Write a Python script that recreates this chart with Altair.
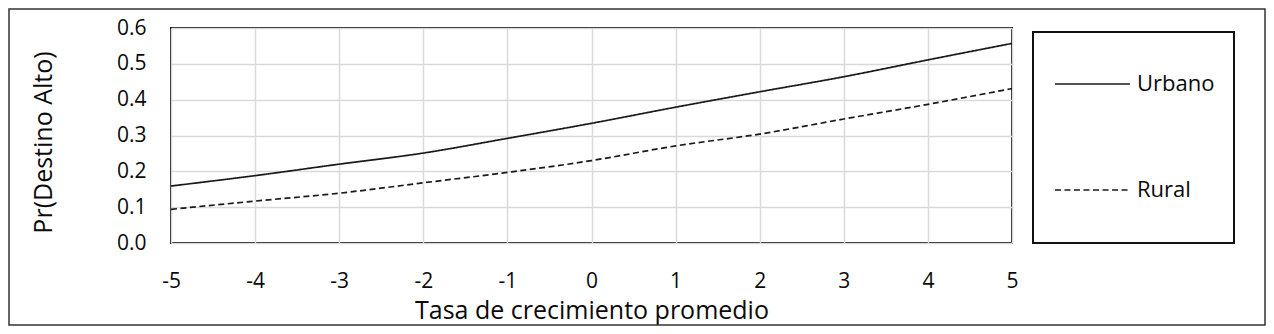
import altair as alt
import pandas as pd

x_vals = [-5, -4, -3, -2, -1, 0, 1, 2, 3, 4, 5]
urbano = [0.159, 0.188, 0.220, 0.251, 0.292, 0.334, 0.379, 0.422, 0.464, 0.511, 0.557]
rural = [0.094, 0.117, 0.139, 0.168, 0.197, 0.230, 0.271, 0.304, 0.346, 0.387, 0.431]
series_names = ["Urbano", "Rural"]
x_title = "Tasa de crecimiento promedio"
y_title = "Pr(Destino Alto)"

rows = []
for name, vals in zip(series_names, [urbano, rural]):
    for xv, yv in zip(x_vals, vals):
        rows.append({"x": xv, "y": yv, "serie": name})
df = pd.DataFrame(rows)
one = pd.DataFrame({"k": [0]})

FONT = "Open Sans"
TXT = "#0a0a0a"
W, H = 841, 215

xs = alt.Scale(domain=[-5, 5], nice=False)
ys = alt.Scale(domain=[0, 0.6], nice=False)

lines = alt.Chart(df).mark_line(interpolate="monotone", color="#1a1a1a", strokeWidth=1.7).encode(
    x=alt.X("x:Q", scale=xs, axis=alt.Axis(
        values=x_vals, title=x_title, labelExpr="'' + datum.value", labelFlush=False,
        grid=True, gridColor="#d9d9d9", gridWidth=1.5, domain=False, ticks=False,
        labelFontSize=21, labelPadding=27, labelColor=TXT, labelFont=FONT,
        titleFont=FONT, titleFontSize=25, titleFontWeight="normal", titleColor=TXT,
        titleBaseline="alphabetic", titleY=75)),
    y=alt.Y("y:Q", scale=ys, axis=alt.Axis(
        values=[0, 0.1, 0.2, 0.3, 0.4, 0.5, 0.6], format=".1f", title=y_title, labelFlush=False,
        grid=True, gridColor="#d9d9d9", gridWidth=1.5, domain=False, ticks=False,
        labelFontSize=21, labelPadding=25, labelColor=TXT, labelFont=FONT,
        titleFont=FONT, titleFontSize=25, titleFontWeight="normal", titleColor=TXT,
        titleBaseline="middle", titleAlign="center", titleAngle=-90, titleX=-128, titleY=114)),
    strokeDash=alt.StrokeDash("serie:N", scale=alt.Scale(domain=series_names, range=[[1, 0], [6, 3.5]]), legend=None),
    detail="serie:N",
)

# legend box and entries
leg_box = alt.Chart(one).mark_rect(fill=None, stroke="#111", strokeWidth=2).encode(
    x=alt.value(862), x2=alt.value(1063), y=alt.value(4), y2=alt.value(215))
outer = alt.Chart(one).mark_rect(fill=None, stroke="#333", strokeWidth=1.5).encode(
    x=alt.value(-162), x2=alt.value(1094), y=alt.value(-19), y2=alt.value(297))
leg_u = alt.Chart(one).mark_rule(color="#1a1a1a", strokeWidth=1.7).encode(
    x=alt.value(884), x2=alt.value(959), y=alt.value(56))
leg_r = alt.Chart(one).mark_rule(color="#1a1a1a", strokeWidth=1.7, strokeDash=[6, 3.5]).encode(
    x=alt.value(884), x2=alt.value(959), y=alt.value(162))
txt_u = alt.Chart(one).mark_text(text=series_names[0], align="left", baseline="middle", font=FONT,
                                 fontSize=22, color=TXT).encode(x=alt.value(966), y=alt.value(56))
txt_r = alt.Chart(one).mark_text(text=series_names[1], align="left", baseline="middle", font=FONT,
                                 fontSize=22, color=TXT).encode(x=alt.value(966), y=alt.value(162))

chart = alt.layer(lines, leg_box, outer, leg_u, leg_r, txt_u, txt_r).properties(
    width=W, height=H,
    autosize=alt.AutoSizeParams(type="none"),
    padding={"left": 163, "top": 20, "right": 254, "bottom": 83},
    background="white",
).configure_view(stroke="#111", strokeWidth=2)

chart.save("out.html", embed_options={"renderer": "svg", "actions": False})
